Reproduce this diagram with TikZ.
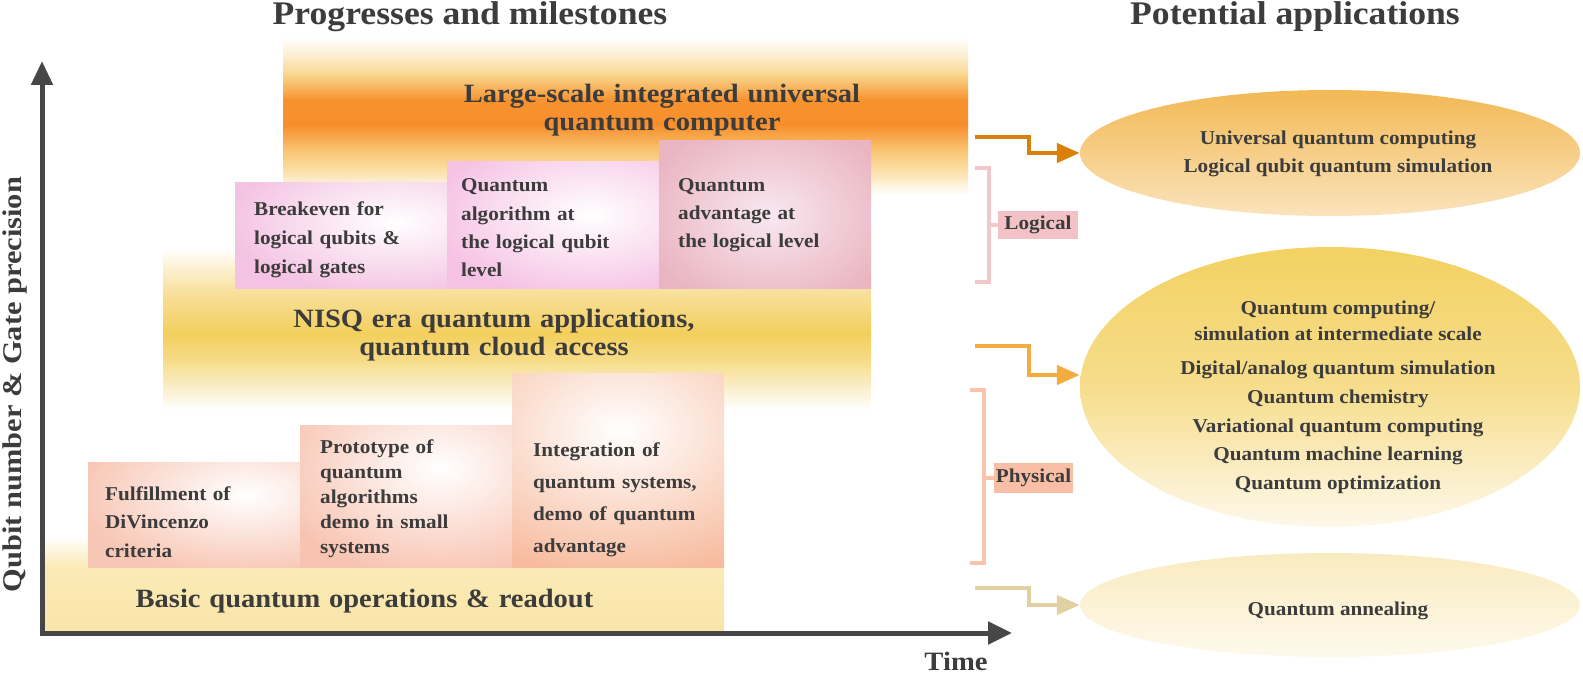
\documentclass[tikz,border=0pt]{standalone}
\usepackage{fontspec}
\setmainfont{Liberation Serif}[FakeStretch=1.08]
\usepackage{graphicx}
\usetikzlibrary{arrows.meta,shapes.geometric}
\definecolor{txt}{HTML}{3C3C3C}
\definecolor{axisc}{HTML}{474747}
\definecolor{tbA}{HTML}{FCEFD2}
\definecolor{tbB}{HTML}{F9D58C}
\definecolor{tbC}{HTML}{F7922E}
\definecolor{tbD}{HTML}{F78F2C}
\definecolor{tbE}{HTML}{F9C471}
\definecolor{tbF}{HTML}{FBE2AE}
\definecolor{nbA}{HTML}{F8E1A0}
\definecolor{nbB}{HTML}{F3CF5C}
\definecolor{nbC}{HTML}{F6DC88}
\definecolor{nbD}{HTML}{FAEDC6}
\definecolor{bbA}{HTML}{FAEAB6}
\definecolor{bbB}{HTML}{F9E5A8}
\definecolor{pinkA}{HTML}{F4C2E2}
\definecolor{pinkB}{HTML}{F6C2E4}
\definecolor{pinkC}{HTML}{EAB5C2}
\definecolor{innerC}{HTML}{F8E8F0}
\definecolor{peachD}{HTML}{F8C6B4}
\definecolor{peachE}{HTML}{F8C4B2}
\definecolor{salmF}{HTML}{F7BA9C}
\definecolor{eAt}{HTML}{F2B954}
\definecolor{eAb}{HTML}{FBE3BC}
\definecolor{eBt}{HTML}{F3D162}
\definecolor{eBm}{HTML}{F6DD8C}
\definecolor{eBb}{HTML}{FEF8EA}
\definecolor{eCt}{HTML}{F9EBC0}
\definecolor{eCb}{HTML}{FEF9EC}
\definecolor{arA}{HTML}{D98008}
\definecolor{arB}{HTML}{F2AC40}
\definecolor{arC}{HTML}{E0D0A2}
\definecolor{brL}{HTML}{F2C6CA}
\definecolor{brP}{HTML}{FAC4AC}
\definecolor{labL}{HTML}{F2C2C6}
\definecolor{labP}{HTML}{F9BEA6}
\newcommand\bandslice[6]{\shade[top color=#5,bottom color=#6] (#1,#3) rectangle (#2,#4);}
\newcommand\softbox[7]{%
  \fill[#6] (#1) rectangle (#2);
  \begin{scope}
    \clip (#1) rectangle (#2);
    \shade[shift={(#3)},inner color=#7,outer color=#6] (-#4,-#5) rectangle (#4,#5);
  \end{scope}}
\begin{document}
\begin{tikzpicture}[x=1pt,y=-1pt,
  every node/.style={font=\bfseries, text=txt, inner sep=0pt},
  titletext/.style={font=\fontsize{33}{36}\selectfont\bfseries, anchor=base},
  bandtext/.style={font=\fontsize{26.4}{28}\selectfont\bfseries, text width=520pt, align=center, anchor=base},
  boxtext/.style={font=\fontsize{19.6}{#1}\selectfont\bfseries, text width=200pt, align=left, anchor=base west},
  apptext/.style={font=\fontsize{19.6}{24}\selectfont\bfseries, anchor=base},
  app/.style={ellipse, inner sep=0pt, minimum width=500pt},
  lab/.style={font=\fontsize{19.6}{24}\selectfont\bfseries, inner sep=0pt},
  conn/.style={line width=4.5pt, arrows={-Triangle[length=23pt,width=19pt]}},
  brk/.style={line width=3.5pt},
  axisline/.style={draw=axisc, line width=5pt, line join=miter,
    arrows={Triangle[length=24pt,width=21pt]-Triangle[length=24pt,width=22pt]}}]
\useasboundingbox (0,0) rectangle (1583,674);

% top band
\bandslice{283}{968}{37}{55.5}{white}{tbA}
\bandslice{283}{968}{55}{75.5}{tbA}{tbB}
\bandslice{283}{968}{75}{100.5}{tbB}{tbC}
\bandslice{283}{968}{100}{125.5}{tbC}{tbD}
\bandslice{283}{968}{125}{150.5}{tbD}{tbE}
\bandslice{283}{968}{150}{172.5}{tbE}{tbF}
\bandslice{283}{968}{172}{195}{tbF}{white}
% NISQ band
\bandslice{163}{871}{248}{290.5}{white}{nbA}
\bandslice{163}{871}{290}{333.5}{nbA}{nbB}
\bandslice{163}{871}{333}{360.5}{nbB}{nbC}
\bandslice{163}{871}{360}{385.5}{nbC}{nbD}
\bandslice{163}{871}{385}{410}{nbD}{white}
% bottom band
\bandslice{43}{724}{535}{567.5}{white}{bbA}
\bandslice{43}{724}{567}{631}{bbA}{bbB}

% logical boxes
\softbox{235,183}{447,288}{395,222}{170}{75}{pinkA}{white}
\softbox{447,162}{659,288}{590,215}{160}{85}{pinkB}{white}
\softbox{659,141}{871,288}{770,215}{130}{95}{pinkC}{innerC}
% physical boxes
\softbox{88,462}{300,567}{245,495}{170}{80}{peachD}{white}
\softbox{300,425}{512,567}{440,468}{170}{110}{peachE}{white}
\softbox{512,373}{724,567}{620,430}{220}{150}{salmF}{white}

% titles
\node[titletext] (tl) at (470,25) {Progresses and milestones};
\node[titletext] (tr) at (1295,25) {Potential applications};

% band texts
\node[bandtext] (t1) at (662,103) {Large-scale integrated universal\\quantum computer};
\node[bandtext] (t2) at (494,327) {NISQ era quantum applications,\\quantum cloud access};
\node[bandtext] (t3) at (364.5,607) {Basic quantum operations \& readout};

% box texts
\node[boxtext=29] (bA) at (254,215) {Breakeven for\\logical qubits \&\\logical gates};
\node[boxtext=28.3] (bB) at (461,192) {Quantum\\algorithm at\\the logical qubit\\level};
\node[boxtext=28.5] (bC) at (678,191) {Quantum\\advantage at\\the logical level};
\node[boxtext=28.5] (bD) at (105,500) {Fulfillment of\\DiVincenzo\\criteria};
\node[boxtext=25] (bE) at (320,453) {Prototype of\\quantum\\algorithms\\demo in small\\systems};
\node[boxtext=32.3] (bF) at (533,456) {Integration of\\quantum systems,\\demo of quantum\\advantage};

% axes
\coordinate (ytip) at (42,61);
\coordinate (orig) at (42,633);
\coordinate (xtip) at (1012,633);
\draw[axisline] (ytip) -- (orig) -- (xtip);
\node[rotate=90, anchor=base] (ylab) at (21,384.5)
  {\resizebox{415pt}{\height}{\fontsize{27}{27}\selectfont\bfseries Qubit number \& Gate precision}};
\node[font=\fontsize{26.5}{28}\selectfont\bfseries, anchor=base] (time) at (956,670) {Time};

% application ellipses
\node[app, top color=eAt, bottom color=eAb, minimum height=126pt] (e1) at (1330,153) {};
\node[app, top color=eBt, bottom color=eBb, middle color=eBm, minimum height=280pt] (e2) at (1330,387) {};
\node[app, top color=eCt, bottom color=eCb, minimum height=104pt] (e3) at (1330,605) {};

\node[apptext] (u1) at (1338,145) {Universal quantum computing};
\node[apptext] (u2) at (1338,172) {Logical qubit quantum simulation};
\node[apptext] (n1) at (1338,314) {Quantum computing/};
\node[apptext] (n2) at (1338,340) {simulation at intermediate scale};
\node[apptext] (n3) at (1338,374) {Digital/analog quantum simulation};
\node[apptext] (n4) at (1338,403) {Quantum chemistry};
\node[apptext] (n5) at (1338,432) {Variational quantum computing};
\node[apptext] (n6) at (1338,460) {Quantum machine learning};
\node[apptext] (n7) at (1338,489) {Quantum optimization};
\node[apptext] (q1) at (1338,615) {Quantum annealing};

% labels and brackets
\node[lab, fill=labL, minimum width=80pt, minimum height=28pt] (labl) at (1038,225) {Logical};
\node[lab, fill=labP, minimum width=79pt, minimum height=30pt] (labp) at (1033.5,478) {Physical};
\coordinate (lt) at (975,168);
\coordinate (lb) at (975,282);
\draw[brk, draw=brL] (lt) -- ++(14,0) -- ++(0,114) -- (lb);
\draw[brk, draw=brL] (labl.west) -- ++(-9,0);
\coordinate (pt) at (970,390);
\coordinate (pb) at (970,563);
\draw[brk, draw=brP] (pt) -- ++(14,0) -- ++(0,173) -- (pb);
\draw[brk, draw=brP] (labp.west) -- ++(-10,0);

% connectors
\coordinate (s1) at (975,137);
\coordinate (s2) at (975,346);
\coordinate (s3) at (975,588);
\draw[conn, draw=arA] (s1) -- ++(54,0) |- (e1.west);
\draw[conn, draw=arB] (s2) -- ++(54,0) |- ([yshift=12pt]e2.west);
\draw[conn, draw=arC] (s3) -- ++(54,0) |- (e3.west);
\end{tikzpicture}
\end{document}
